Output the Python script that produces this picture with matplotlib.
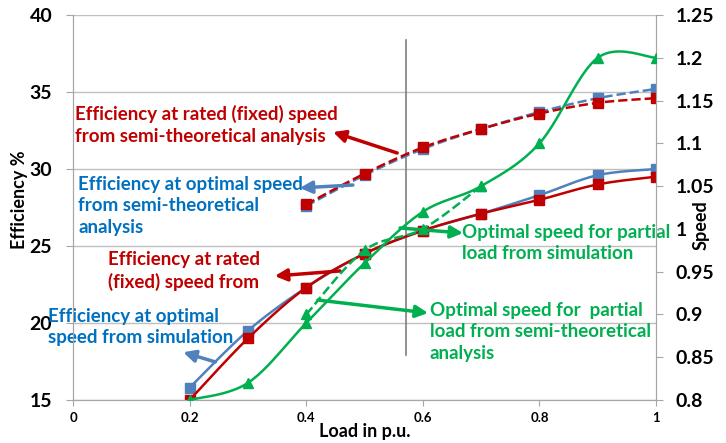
import numpy as np
import matplotlib
matplotlib.use("Agg")
from matplotlib import pyplot as plt

plt.rcParams['font.family'] = ['Lato', 'DejaVu Sans']
plt.rcParams['font.weight'] = 'bold'

load = [0.2, 0.3, 0.4, 0.5, 0.6, 0.7, 0.8, 0.9, 1.0]
eff_opt_sim = [15.8, 19.5, 22.3, 24.5, 26.0, 27.1, 28.3, 29.6, 30.0]
eff_rated_sim = [15.0, 19.0, 22.3, 24.5, 26.0, 27.1, 28.0, 29.0, 29.5]

load_theo = [0.4, 0.5, 0.6, 0.7, 0.8, 0.9, 1.0]
eff_opt_theo = [27.6, 29.6, 31.3, 32.6, 33.7, 34.6, 35.2]
eff_rated_theo = [27.7, 29.7, 31.4, 32.6, 33.6, 34.3, 34.6]

speed_sim = [0.80, 0.82, 0.89, 0.96, 1.02, 1.05, 1.10, 1.20, 1.20]
load_speed_theo = [0.4, 0.5, 0.6, 0.7]
speed_theo = [0.90, 0.975, 1.00, 1.05]

RED = '#C00000'
BLUE = '#4F81BD'
BLUE_TXT = '#0070C0'
GREEN = '#00B050'


def smooth(x, y, n=24):
    # catmull-rom through the points, close to excel's smoothed line
    pts = np.column_stack([x, y]).astype(float)
    p = np.vstack([pts[0], pts, pts[-1]])
    out = []
    t = np.linspace(0, 1, n)[:, None]
    for i in range(1, len(p) - 2):
        p0, p1, p2, p3 = p[i - 1], p[i], p[i + 1], p[i + 2]
        seg = 0.5 * (2 * p1 + (-p0 + p2) * t + (2 * p0 - 5 * p1 + 4 * p2 - p3) * t ** 2
                     + (-p0 + 3 * p1 - 3 * p2 + p3) * t ** 3)
        out.append(seg if i == 1 else seg[1:])
    s = np.vstack(out)
    return s[:, 0], s[:, 1]


def draw(ax, x, y, color, ls, marker, ms, z):
    sx, sy = smooth(x, y)
    ax.plot(sx, sy, color=color, ls=ls, lw=1.8, zorder=z)
    ax.plot(x, y, ls='none', marker=marker, ms=ms, color=color, zorder=z + 0.5)


fig = plt.figure(figsize=(7.26, 4.43), dpi=100)
ax = fig.add_axes([0.1006, 0.0971, 0.803, 0.869])
ax2 = ax.twinx()

ax.set_xlim(0, 1)
ax.set_ylim(15, 40)
ax2.set_ylim(0.8, 1.25)

ax.set_yticks([15, 20, 25, 30, 35, 40])
ax.set_xticks([0, 0.2, 0.4, 0.6, 0.8, 1.0])
ax.set_xticklabels(['0', '0.2', '0.4', '0.6', '0.8', '1'])
ax2.set_yticks([0.8, 0.85, 0.9, 0.95, 1.0, 1.05, 1.1, 1.15, 1.2, 1.25])
ax2.set_yticklabels(['0.8', '0.85', '0.9', '0.95', '1', '1.05', '1.1', '1.15', '1.2', '1.25'])

ax.grid(axis='y', color='#BFBFBF', lw=1)
ax.set_axisbelow(True)
for a in (ax, ax2):
    for s in a.spines.values():
        s.set_color('#A6A6A6')
    a.spines['top'].set_visible(False)
ax.tick_params(axis='y', labelsize=14, color='#A6A6A6', length=5, pad=10)
ax2.tick_params(axis='y', labelsize=14, color='#A6A6A6', length=5, pad=9)
ax.tick_params(axis='x', labelsize=9.5, color='#A6A6A6', length=4, pad=5)

ax.set_ylabel('Efficiency %', fontsize=13, fontweight='bold')
ax.yaxis.set_label_coords(-0.078, 0.52)
ax2.set_ylabel('Speed', fontsize=13, fontweight='bold')
ax2.yaxis.set_label_coords(1.062, 0.455)
ax.set_xlabel('Load in p.u.', fontsize=13, fontweight='bold', labelpad=-1)

# curves
draw(ax, load, eff_opt_sim, BLUE, '-', 's', 7, 3)
draw(ax, load, eff_rated_sim, RED, '-', 's', 7, 4)
draw(ax, load_theo, eff_opt_theo, BLUE, '--', 's', 7, 3)
draw(ax, load_theo, eff_rated_theo, RED, '--', 's', 7, 4)
ax2.set_zorder(ax.get_zorder() + 1)
ax2.patch.set_visible(False)
draw(ax2, load, speed_sim, GREEN, '-', '^', 7, 5)
draw(ax2, load_speed_theo, speed_theo, GREEN, '--', '^', 7, 5)

# vertical marker line
ax.plot([0.571, 0.571], [17.95, 38.4], color='#7F7F7F', lw=1.2, zorder=2)

# annotations
tf = dict(fontsize=13.5, fontweight='bold', va='center', ha='left',
          linespacing=1.3, clip_on=False)


def note(text, pos, color, tail, head, acolor):
    ax.text(pos[0], pos[1], text, color=color, zorder=10, **tf)
    ax.annotate('', xy=head, xytext=tail, zorder=10,
                arrowprops=dict(arrowstyle='-|>', color=acolor, lw=2.5,
                                mutation_scale=18, shrinkA=0, shrinkB=0))


note('Efficiency at rated (fixed) speed\nfrom semi-theoretical analysis',
     (0.003, 32.86), RED, (0.556, 31.04), (0.446, 32.4), RED)
note('Efficiency at optimal speed\nfrom semi-theoretical\nanalysis',
     (0.009, 27.6), BLUE_TXT, (0.48, 28.96), (0.389, 28.77), BLUE)
note('Efficiency at rated\n(fixed) speed from',
     (0.06, 23.38), RED, (0.458, 23.38), (0.346, 23.05), RED)
note('Efficiency at optimal\nspeed from simulation',
     (-0.043, 19.74), BLUE_TXT, (0.244, 17.47), (0.189, 18.1), BLUE)
note('Optimal speed for partial\nload from simulation',
     (0.667, 25.19), GREEN, (0.561, 26.17), (0.669, 25.84), GREEN)
note('Optimal speed for  partial\nload from semi-theoretical\nanalysis',
     (0.612, 19.42), GREEN, (0.42, 21.49), (0.609, 20.65), GREEN)

fig.savefig('out.png', dpi=100)
